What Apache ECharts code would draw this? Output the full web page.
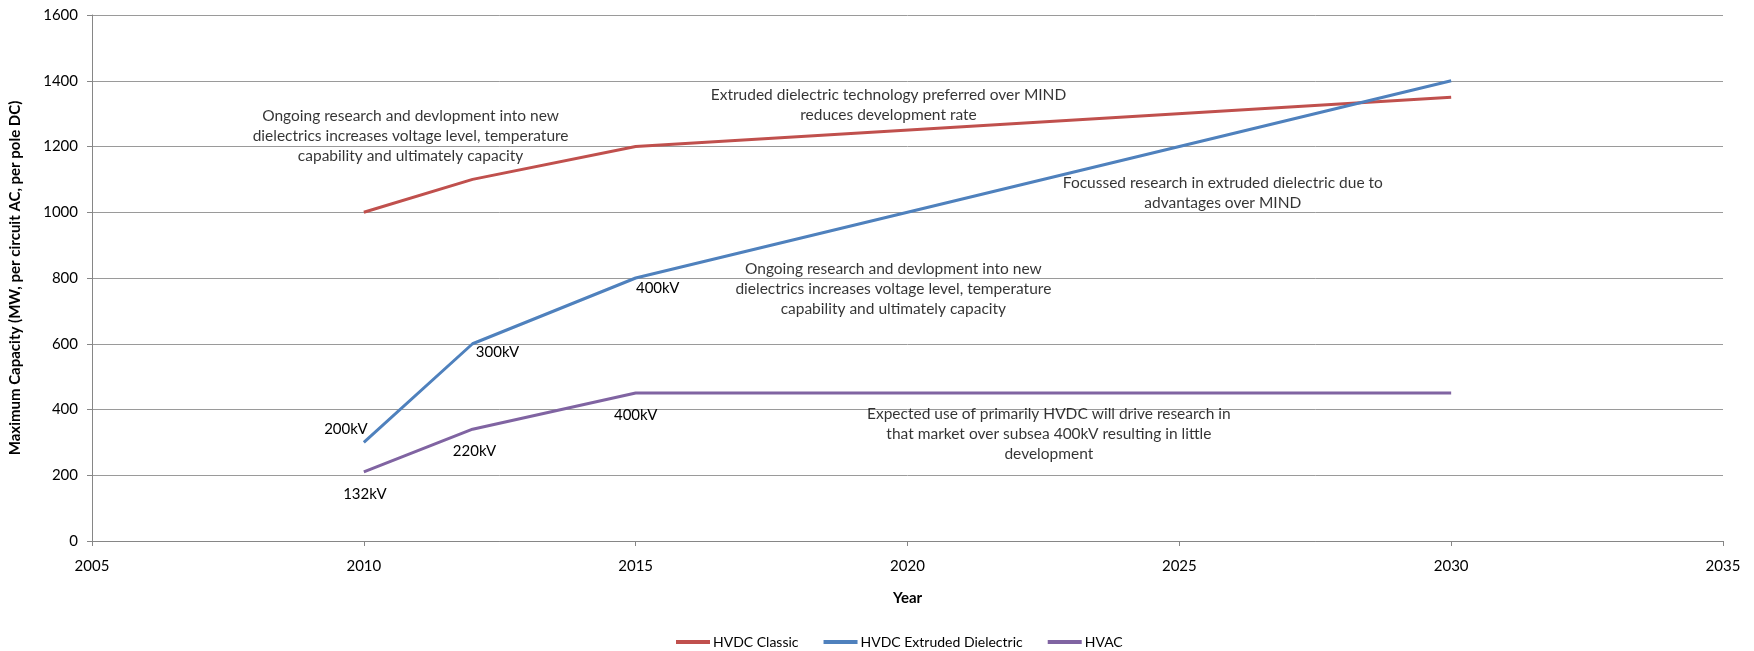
<!DOCTYPE html>
<html>
<head>
<meta charset="utf-8">
<script src="https://cdn.jsdelivr.net/npm/echarts@6/dist/echarts.min.js"></script>
<style>
  html, body { margin: 0; padding: 0; background: #fff; }
  #chart { width: 1754px; height: 651px; }
</style>
</head>
<body>
<div id="chart"></div>
<script>
// Capacity roadmap per cable technology
const years = [2010, 2012, 2015, 2030];
const hvdcClassic = [1000, 1100, 1200, 1350];
const hvdcExtruded = [300, 600, 800, 1400];
const hvac = [210, 340, 450, 450];

// Voltage levels reached at each step
const extrudedKv = ['200kV', '300kV', '400kV', ''];
const hvacKv = ['132kV', '220kV', '400kV', ''];

// Axis ticks
const xTicks = [2005, 2010, 2015, 2020, 2025, 2030, 2035];
const yTicks = [0, 200, 400, 600, 800, 1000, 1200, 1400, 1600];

// Commentary notes, anchored at [year, MW]
const noteText = [
  'Ongoing research and devlopment into new\ndielectrics increases voltage level, temperature\ncapability and ultimately capacity',
  'Extruded dielectric technology preferred over MIND\nreduces development rate',
  'Focussed research in extruded dielectric due to\nadvantages over MIND',
  'Ongoing research and devlopment into new\ndielectrics increases voltage level, temperature\ncapability and ultimately capacity',
  'Expected use of primarily HVDC will drive research in\nthat market over subsea 400kV resulting in little\ndevelopment'
];
const noteYear = [2010.86, 2019.65, 2025.8, 2019.74, 2022.6];
const noteMW = [1233, 1326, 1058, 767, 326];

const FONT = 'Lato';
const TXT = '#000000';

// Label placement for each kV tag (offsets in px from the point)
const extrudedLabelOffsets = [[-18, -13], [25, 8], [22, 10], [0, 0]];
const hvacLabelOffsets = [[1, 22], [2, 22], [0, 22], [0, 0]];

function lineData(values, kv, offsets) {
  return values.map((v, i) => ({
    value: [years[i], v],
    label: kv ? {
      show: kv[i] !== '',
      formatter: kv[i],
      position: 'inside',
      offset: offsets[i]
    } : { show: false }
  }));
}

const chart = echarts.init(document.getElementById('chart'));

const option = {
  animation: false,
  backgroundColor: '#ffffff',
  textStyle: { fontFamily: FONT },
  grid: { left: 90, right: 31, top: 15, bottom: 110, containLabel: false },
  xAxis: {
    type: 'value',
    min: 2005, max: 2035, interval: 5,
    name: 'Year',
    nameLocation: 'middle',
    nameGap: 50,
    nameTextStyle: { fontFamily: FONT, fontWeight: 'bold', fontSize: 15, color: TXT },
    axisLine: { show: true, lineStyle: { color: '#868686', width: 1 } },
    axisTick: { show: true, length: 5, lineStyle: { color: '#868686' } },
    axisLabel: { fontFamily: FONT, fontSize: 15, color: TXT, margin: 18, formatter: v => String(v) },
    splitLine: { show: false }
  },
  yAxis: {
    type: 'value',
    min: 0, max: 1600, interval: 200,
    name: 'Maximum Capacity (MW, per circuit AC, per pole DC)',
    nameLocation: 'middle',
    nameGap: 69,
    nameRotate: 90,
    nameTextStyle: { fontFamily: FONT, fontWeight: 'bold', fontSize: 15, color: TXT },
    axisLine: { show: true, lineStyle: { color: '#868686', width: 1 } },
    axisTick: { show: true, length: 5, lineStyle: { color: '#868686' } },
    axisLabel: { fontFamily: FONT, fontSize: 15, color: TXT, margin: 14, formatter: v => String(v) },
    splitLine: { show: true, lineStyle: { color: '#9a9a9a', width: 1 } }
  },
  legend: {
    data: ['HVDC Classic', 'HVDC Extruded Dielectric', 'HVAC'],
    top: 630,
    left: 671,
    icon: 'rect',
    itemWidth: 34,
    itemHeight: 4,
    itemGap: 25,
    textStyle: { fontFamily: FONT, fontSize: 14, color: TXT, padding: [0, 0, 0, -2] }
  },
  series: [
    {
      name: 'HVDC Classic',
      type: 'line',
      data: lineData(hvdcClassic, null, null),
      symbol: 'circle', symbolSize: 0.1, showSymbol: true,
      lineStyle: { color: '#C0504D', width: 3 },
      itemStyle: { color: '#C0504D' },
      z: 3
    },
    {
      name: 'HVDC Extruded Dielectric',
      type: 'line',
      data: lineData(hvdcExtruded, extrudedKv, extrudedLabelOffsets),
      symbol: 'circle', symbolSize: 0.1, showSymbol: true,
      lineStyle: { color: '#4F81BD', width: 3 },
      itemStyle: { color: '#4F81BD' },
      label: { fontFamily: FONT, fontSize: 15, color: TXT },
      z: 3
    },
    {
      name: 'HVAC',
      type: 'line',
      data: lineData(hvac, hvacKv, hvacLabelOffsets),
      symbol: 'circle', symbolSize: 0.1, showSymbol: true,
      lineStyle: { color: '#8064A2', width: 3 },
      itemStyle: { color: '#8064A2' },
      label: { fontFamily: FONT, fontSize: 15, color: TXT },
      z: 3
    },
    {
      name: 'notes',
      type: 'scatter',
      symbolSize: 0.1,
      itemStyle: { color: 'rgba(0,0,0,0)' },
      silent: true,
      data: noteText.map((t, i) => ({
        value: [noteYear[i], noteMW[i]],
        label: {
          show: true,
          position: 'inside',
          formatter: t,
          align: 'center',
          verticalAlign: 'middle',
          fontFamily: FONT,
          fontSize: 15.5,
          lineHeight: 20,
          color: TXT
        }
      })),
      z: 4
    }
  ]
};

chart.setOption(option);
</script>
</body>
</html>
